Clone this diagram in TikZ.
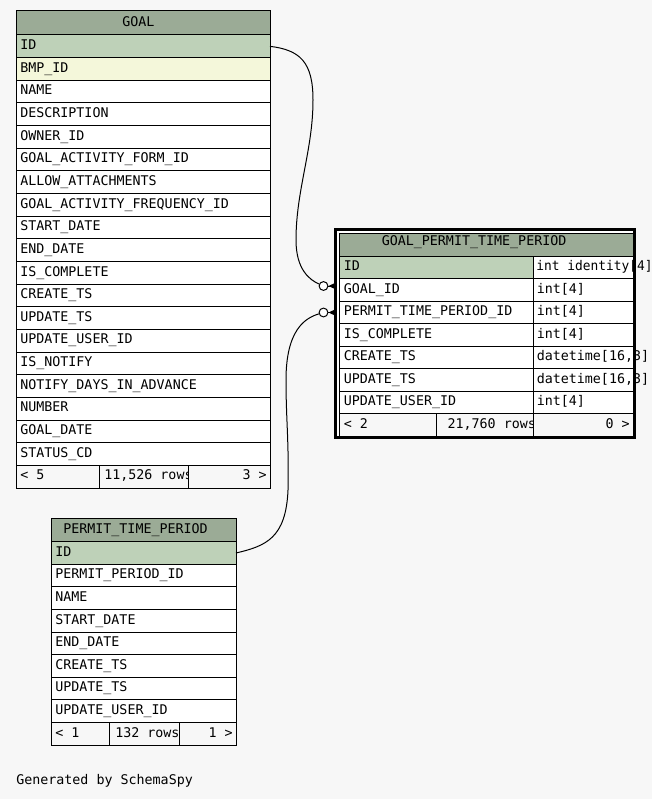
\documentclass[tikz,border=0pt]{standalone}
\usepackage{fontspec}
\setmonofont{DejaVu Sans Mono}
\usetikzlibrary{calc}

\definecolor{pagebg}{HTML}{F7F7F7}
\definecolor{headfill}{HTML}{9BAB96}
\definecolor{keyfill}{HTML}{BED1B8}
\definecolor{idxfill}{HTML}{F4F7DA}

\tikzset{
  cell/.style={rectangle, draw=black, line width=0.75pt, inner sep=0pt, outer sep=0pt, anchor=north west},
  plain/.style={fill=white},
  head/.style={fill=headfill},
  key/.style={fill=keyfill},
  idx/.style={fill=idxfill},
  foot/.style={fill=pagebg},
  txt/.style={font=\ttfamily\fontsize{10pt}{12pt}\selectfont, inner sep=0pt, text=black},
  link/.style={draw=black, line width=0.75pt},
  odot/.style={circle, draw=black, fill=white, line width=0.75pt, minimum size=6.6pt, inner sep=0pt},
  selframe/.style={rectangle, fill=white, inner sep=0pt, outer sep=0pt, anchor=north west},
}

% one table cell: name, x, y (top), width, height, fill style, text dx, baseline dy, text
\newcommand\dbcell[9]{%
  \node[cell,#6,minimum width=#4*0.75pt,minimum height=#5*0.75pt] (#1) at (#2,#3) {};
  \node[txt,anchor=base west] (#1-t) at ([xshift=#7*0.75pt,yshift=-#8*0.75pt]#1.north west) {#9};}
% same, text set flush right
\newcommand\dbcellr[9]{%
  \node[cell,#6,minimum width=#4*0.75pt,minimum height=#5*0.75pt] (#1) at (#2,#3) {};
  \node[txt,anchor=base east] (#1-t) at ([xshift=-#7*0.75pt,yshift=-#8*0.75pt]#1.north east) {#9};}

\begin{document}
\begin{tikzpicture}[x=0.75pt,y=-0.75pt]
\useasboundingbox (0,0) rectangle (652,799);
\fill[pagebg] (0,0) rectangle (652,799);

% ---------------- GOAL ----------------
\dbcell{goal-h}{16}{11}{254}{24}{head}{106}{16}{GOAL}
\dbcell{goal-id}{16}{35}{254}{22.65}{key}{4}{14.5}{ID}
\dbcell{goal-bmp}{16}{57.65}{254}{22.65}{idx}{4}{14.5}{BMP\_ID}
\foreach \lbl [count=\i from 2] in {NAME,DESCRIPTION,OWNER\_ID,GOAL\_ACTIVITY\_FORM\_ID,
  ALLOW\_ATTACHMENTS,GOAL\_ACTIVITY\_FREQUENCY\_ID,START\_DATE,END\_DATE,IS\_COMPLETE,
  CREATE\_TS,UPDATE\_TS,UPDATE\_USER\_ID,IS\_NOTIFY,NOTIFY\_DAYS\_IN\_ADVANCE,NUMBER,
  GOAL\_DATE,STATUS\_CD}{
  \pgfmathsetmacro\yy{35+22.65*\i}
  \dbcell{goal-\i}{16}{\yy}{254}{22.65}{plain}{4}{14.5}{\lbl}
}
\dbcell{goal-fl}{16}{465.35}{83.3}{22.65}{foot}{4}{14.5}{< 5}
\dbcell{goal-fm}{99.3}{465.35}{89.4}{22.65}{foot}{4.7}{14.5}{11,526 rows}
\dbcellr{goal-fr}{188.7}{465.35}{81.3}{22.65}{foot}{3}{14.5}{3 >}

% ---------------- PERMIT_TIME_PERIOD ----------------
\dbcell{ptp-h}{51}{518.3}{185}{23.4}{head}{12}{15}{PERMIT\_TIME\_PERIOD}
\dbcell{ptp-id}{51}{541.7}{185}{22.6}{key}{4}{14.5}{ID}
\foreach \lbl [count=\i from 1] in {PERMIT\_PERIOD\_ID,NAME,START\_DATE,END\_DATE,
  CREATE\_TS,UPDATE\_TS,UPDATE\_USER\_ID}{
  \pgfmathsetmacro\yy{541.7+22.6*\i}
  \dbcell{ptp-\i}{51}{\yy}{185}{22.6}{plain}{4}{14.5}{\lbl}
}
\dbcell{ptp-fl}{51}{722.5}{58.3}{22.6}{foot}{4}{14.5}{< 1}
\dbcell{ptp-fm}{109.3}{722.5}{70}{22.6}{foot}{5.7}{14.5}{132 rows}
\dbcellr{ptp-fr}{179.3}{722.5}{56.7}{22.6}{foot}{3}{14.5}{1 >}

% ---------------- GOAL_PERMIT_TIME_PERIOD (selected) ----------------
\node[selframe,minimum width=299*0.75pt,minimum height=208*0.75pt] (gptp) at (335.5,229.5) {};
\dbcell{gptp-h}{339}{233.3}{294}{22.7}{head}{42.5}{12.4}{GOAL\_PERMIT\_TIME\_PERIOD}
\dbcell{gptp-id}{339}{256}{194}{22.5}{key}{4.5}{14.5}{ID}
\dbcell{gptp-id-ty}{533}{256}{100}{22.5}{plain}{3.2}{14.5}{\scalebox{0.965}[1]{int identity[4]}}
\dbcell{gptp-goal}{339}{278.5}{194}{22.5}{plain}{4.5}{14.5}{GOAL\_ID}
\dbcell{gptp-goal-ty}{533}{278.5}{100}{22.5}{plain}{3.5}{14.5}{int[4]}
\dbcell{gptp-permit}{339}{301}{194}{22.5}{plain}{4.5}{14.5}{PERMIT\_TIME\_PERIOD\_ID}
\dbcell{gptp-permit-ty}{533}{301}{100}{22.5}{plain}{3.5}{14.5}{int[4]}
\dbcell{gptp-compl}{339}{323.5}{194}{22.5}{plain}{4.5}{14.5}{IS\_COMPLETE}
\dbcell{gptp-compl-ty}{533}{323.5}{100}{22.5}{plain}{3.5}{14.5}{int[4]}
\dbcell{gptp-cts}{339}{346}{194}{22.5}{plain}{4.5}{14.5}{CREATE\_TS}
\dbcell{gptp-cts-ty}{533}{346}{100}{22.5}{plain}{3.5}{14.5}{datetime[16,3]}
\dbcell{gptp-uts}{339}{368.5}{194}{22.5}{plain}{4.5}{14.5}{UPDATE\_TS}
\dbcell{gptp-uts-ty}{533}{368.5}{100}{22.5}{plain}{3.5}{14.5}{datetime[16,3]}
\dbcell{gptp-uid}{339}{391}{194}{22.5}{plain}{4.5}{14.5}{UPDATE\_USER\_ID}
\dbcell{gptp-uid-ty}{533}{391}{100}{22.5}{plain}{3.5}{14.5}{int[4]}
\dbcell{gptp-fl}{339}{413.5}{97.7}{22.5}{foot}{4.5}{14.5}{< 2}
\dbcell{gptp-fm}{436.7}{413.5}{96.3}{22.5}{foot}{10.6}{14.5}{21,760 rows}
\dbcellr{gptp-fr}{533}{413.5}{100}{22.5}{foot}{3}{14.5}{0 >}

% ---------------- relationships ----------------
\node[odot] (goal-end) at (323.5,286) {};
\node[odot] (ptp-end) at (323.5,312.5) {};

\draw[link] (goal-id.east) .. controls (300,50) and (313,62) .. (313,100)
  .. controls (313,150) and (296,190) .. (296,240)
  .. controls (296,270) and (310,280) .. (goal-end);
\draw[link] (ptp-id.east) .. controls (266,546) and (286,538) .. (288,490)
  .. controls (289,440) and (286,420) .. (286,380)
  .. controls (286,330) and (305,318) .. (ptp-end);

% crow's feet at the child table
\foreach \e in {goal-end,ptp-end}{
  \draw[link] (\e.east) -- ($(\e)+(6,0)$);
  \fill[black] ($(\e)+(5,0)$) -- ($(\e)+(12.5,-3.5)$) -- ($(\e)+(11,0)$)
    -- ($(\e)+(12.5,3.5)$) -- cycle;
}

% selection frame round the child table
\draw[line width=2.25pt] (gptp.north west) rectangle (gptp.south east);

\node[txt,anchor=base west] (credit) at (16,784) {Generated by SchemaSpy};
\end{tikzpicture}
\end{document}
